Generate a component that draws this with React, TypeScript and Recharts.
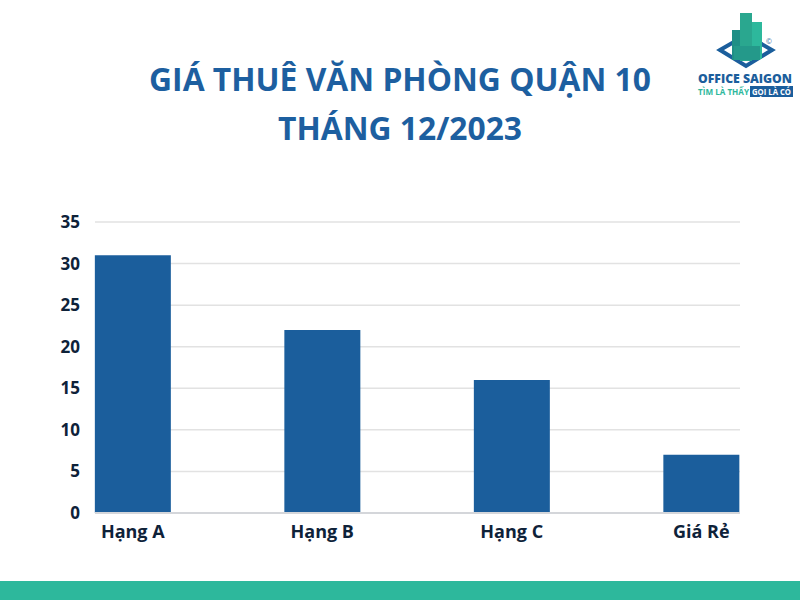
import React from 'react';
import { BarChart, Bar, XAxis, YAxis, CartesianGrid } from 'recharts';

const categories = ['Hạng A', 'Hạng B', 'Hạng C', 'Giá Rẻ'];
const prices = [31, 22, 16, 7];
const yTicks = [0, 5, 10, 15, 20, 25, 30, 35];

const data = categories.map((name, i) => ({ name, price: prices[i] }));

const FONT = '"Open Sans", "Noto Sans", sans-serif';
const BLUE = '#1b5e9c';
const TEAL = '#2db89c';
const INK = '#0e2239';

// small approximation of the brand logo in the top right corner
const Logo: React.FC = () => (
  <svg width={110} height={100} style={{ position: 'absolute', left: 690, top: 0 }}>
    <polygon points="30,50 56,35 82,50 56,66" fill="none" stroke={BLUE} strokeWidth={4} />
    <rect x={42} y={30} width={10} height={30} fill="#1f8f86" />
    <rect x={50} y={13} width={12} height={48} fill="#2aa78f" />
    <rect x={62} y={22} width={10} height={37} fill={TEAL} />
    <rect x={44} y={46} width={26} height={14} fill="#24998a" />
    <text x={76} y={44} fontFamily={FONT} fontSize={7} fill={BLUE}>©</text>
    <text
      x={8}
      y={82.5}
      textLength={94}
      lengthAdjust="spacingAndGlyphs"
      fontFamily={FONT}
      fontWeight={800}
      fontSize={12}
      fill={BLUE}
    >
      OFFICE SAIGON
    </text>
    <text
      x={8}
      y={95}
      textLength={51}
      lengthAdjust="spacingAndGlyphs"
      fontFamily={FONT}
      fontWeight={700}
      fontSize={8}
      fill={TEAL}
    >
      TÌM LÀ THẤY
    </text>
    <rect x={60} y={86} width={43} height={11} fill={BLUE} />
    <text
      x={62}
      y={95}
      textLength={39}
      lengthAdjust="spacingAndGlyphs"
      fontFamily={FONT}
      fontWeight={700}
      fontSize={8}
      fill="#fff"
    >
      GỌI LÀ CÓ
    </text>
  </svg>
);

const App: React.FC = () => {
  return (
    <div
      style={{
        position: 'fixed',
        left: 0,
        top: 0,
        width: 800,
        height: 600,
        background: '#fff',
        overflow: 'hidden',
        fontFamily: FONT,
      }}
    >
      <div
        style={{
          position: 'absolute',
          left: 0,
          top: 54,
          width: 800,
          textAlign: 'center',
          color: '#1d5fa0',
          fontWeight: 700,
          fontSize: 31.8,
          lineHeight: '49px',
        }}
      >
        GIÁ THUÊ VĂN PHÒNG QUẬN 10
        <br />
        THÁNG 12/2023
      </div>
      <Logo />
      <div style={{ position: 'absolute', left: 0, top: 0 }}>
        <BarChart
          width={800}
          height={600}
          data={data}
          margin={{ top: 222, right: 60, bottom: 57, left: 55 }}
          barCategoryGap="30%"
        >
          <CartesianGrid vertical={false} stroke="#e2e2e2" strokeWidth={1.5} />
          <XAxis
            dataKey="name"
            height={30}
            padding={{ left: -57, right: -56 }}
            axisLine={{ stroke: '#d4d6da', strokeWidth: 2 }}
            tickLine={false}
            tickMargin={6}
            interval={0}
            tick={{ fill: INK, fontSize: 18, fontWeight: 700, fontFamily: FONT }}
          />
          <YAxis
            width={40}
            domain={[0, 35]}
            ticks={yTicks}
            interval={0}
            axisLine={false}
            tickLine={false}
            tickMargin={9}
            tick={{ fill: INK, fontSize: 17, fontWeight: 700, fontFamily: FONT }}
          />
          <Bar dataKey="price" fill={BLUE} isAnimationActive={false} />
        </BarChart>
      </div>
      <div style={{ position: 'absolute', left: 0, top: 581, width: 800, height: 19, background: TEAL }} />
    </div>
  );
};

export default App;
